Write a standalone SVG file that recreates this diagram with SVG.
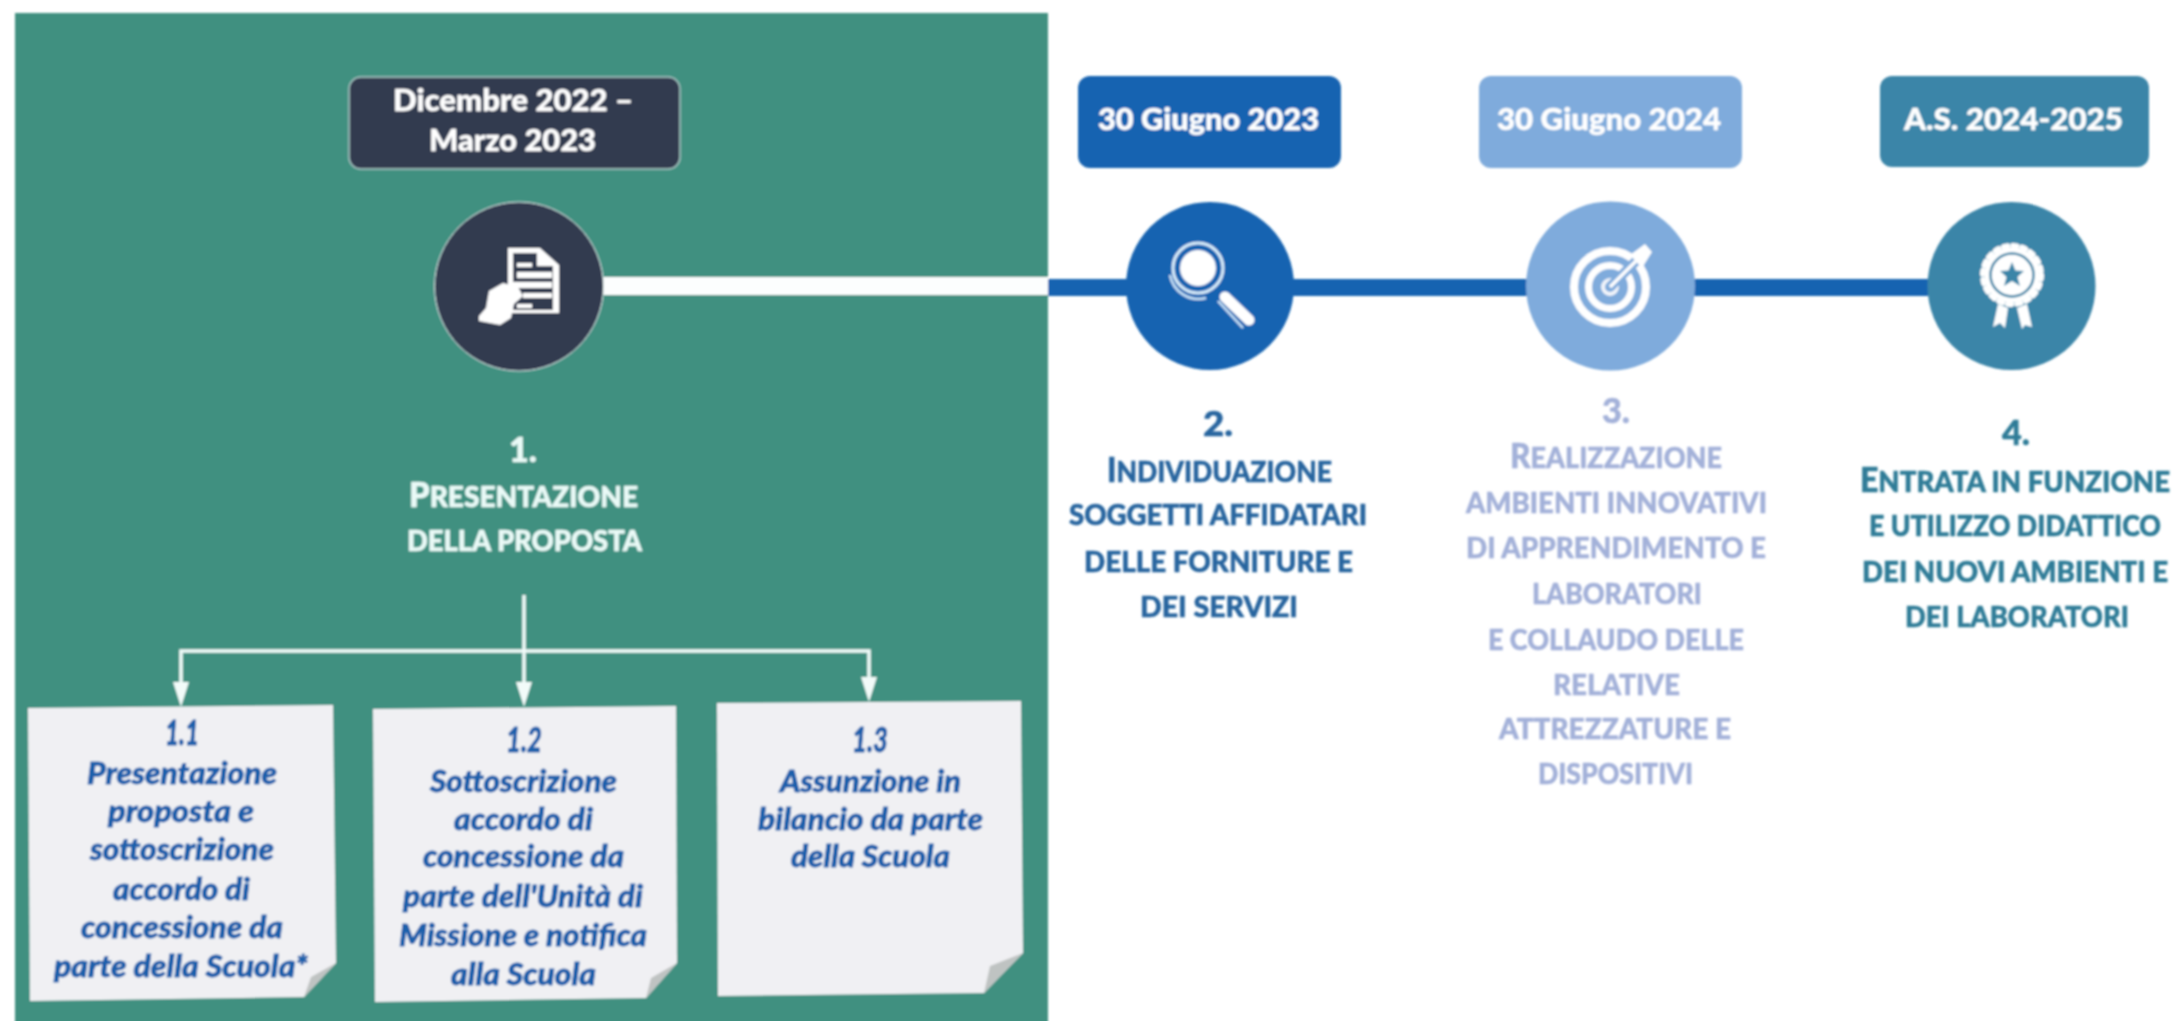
<svg xmlns="http://www.w3.org/2000/svg" width="2178" height="1021" viewBox="0 0 2178 1021">
<style>
text{font-family:"Lato","Noto Sans","Liberation Sans",sans-serif;font-weight:900}
.d{font-size:31px;fill:#fff;stroke:#fff;stroke-width:.4}
.w{font-size:29px;fill:#eafaf7;stroke:#eafaf7;stroke-width:.5}
.n{font-size:30px;fill:#1a5fab;stroke:#1a5fab;stroke-width:.8;font-style:italic}
.t2{font-size:29px;fill:#28659f;stroke:#28659f;stroke-width:.5}
.t3{font-size:29px;fill:#a3b1d9;stroke:#a3b1d9;stroke-width:.5}
.t4{font-size:29px;fill:#2e7c97;stroke:#2e7c97;stroke-width:.5}
.t4s{font-size:25px;fill:#2e7c97;stroke:#2e7c97;stroke-width:.5}
.b{font-size:34px}
.bs{font-size:29px}
.num{font-size:34px}
.line{fill:none;stroke:#f2fbf9;stroke-width:3.500}
.note{fill:#f0f0f3}
.fold{fill:#bfc3c2}
</style>
<defs>
<filter id="soft" x="-2%" y="-2%" width="104%" height="104%"><feGaussianBlur stdDeviation="1"/></filter>
</defs>
<rect width="2178" height="1021" fill="#fff"/>
<g filter="url(#soft)">
<rect id="panel" x="15" y="13" width="1033" height="1010" fill="#3f9080"/>
<g id="connectors">
<rect x="603" y="277" width="445" height="18" fill="#fcfefe"/>
<rect x="1048" y="279" width="880" height="17" fill="#1763b1"/>
<path class="line" d="M524 595V690"/>
<path class="line" d="M181 690V651H869V685"/>
<path d="M173 682H189L181 707Z M516 682H532L524 707Z M861 677H877L869 702Z" fill="#f2fbf9"/>
</g>
<g id="node-1">
<rect x="349" y="77" width="331" height="92" rx="12" fill="#333a4f" stroke="#a9c6c4" stroke-width="1.500"/>
<text class="d" x="393" y="111" textLength="240" lengthAdjust="spacingAndGlyphs">Dicembre 2022 –</text>
<text class="d" x="429" y="151" textLength="167" lengthAdjust="spacingAndGlyphs">Marzo 2023</text>
<circle cx="519" cy="286.500" r="84.500" fill="#333a4f" stroke="#dcecea" stroke-width="1"/>
<g id="icon-doc">
<path d="M508 248H540L559 265V313H508Z" fill="#fff"/>
<path d="M513 253H537V266H553V310H513Z" fill="#333a4f"/>
<path d="M517 263h15v4h-15z M517 272h35v6h-35z M513 282h39v6h-39z M523 293h29v5h-29z M517 304h15v4h-15z" fill="#fff"/>
<path d="M479 316L486 308L489 291L503 283L518 287L523 296L514 304L511 318L500 325L479 321Z" fill="#fff"/>
</g>
<text class="w num" x="509" y="462" textLength="28" lengthAdjust="spacingAndGlyphs">1.</text>
<text class="w" x="409" y="507" textLength="229" lengthAdjust="spacingAndGlyphs"><tspan class="b">P</tspan>RESENTAZIONE</text>
<text class="w" x="407" y="551" textLength="235" lengthAdjust="spacingAndGlyphs">DELLA PROPOSTA</text>
</g>
<g id="note-1-1">
<path class="note" d="M28 708L333 705L336 963L304 997L30 1001Z"/>
<path class="fold" d="M336 963L304 997L311 977Z"/>
<text class="n num" x="165" y="745" textLength="34" lengthAdjust="spacingAndGlyphs">1.1</text>
<text class="n" x="87" y="784" textLength="190" lengthAdjust="spacingAndGlyphs">Presentazione</text>
<text class="n" x="108" y="822" textLength="146" lengthAdjust="spacingAndGlyphs">proposta e</text>
<text class="n" x="90" y="860" textLength="184" lengthAdjust="spacingAndGlyphs">sottoscrizione</text>
<text class="n" x="113" y="900" textLength="137" lengthAdjust="spacingAndGlyphs">accordo di</text>
<text class="n" x="81" y="938" textLength="202" lengthAdjust="spacingAndGlyphs">concessione da</text>
<text class="n" x="54" y="977" textLength="254" lengthAdjust="spacingAndGlyphs">parte della Scuola*</text>
</g>
<g id="note-1-2">
<path class="note" d="M373 709L676 706L677 963L646 998L375 1002Z"/>
<path class="fold" d="M677 963L646 998L651 978Z"/>
<text class="n num" x="506" y="752" textLength="36" lengthAdjust="spacingAndGlyphs">1.2</text>
<text class="n" x="430" y="792" textLength="187" lengthAdjust="spacingAndGlyphs">Sottoscrizione</text>
<text class="n" x="454" y="830" textLength="139" lengthAdjust="spacingAndGlyphs">accordo di</text>
<text class="n" x="423" y="867" textLength="201" lengthAdjust="spacingAndGlyphs">concessione da</text>
<text class="n" x="403" y="907" textLength="240" lengthAdjust="spacingAndGlyphs">parte dell'Unità di</text>
<text class="n" x="399" y="946" textLength="248" lengthAdjust="spacingAndGlyphs">Missione e notifica</text>
<text class="n" x="451" y="985" textLength="145" lengthAdjust="spacingAndGlyphs">alla Scuola</text>
</g>
<g id="note-1-3">
<path class="note" d="M717 703L1021 701L1023 953L984 993L718 996Z"/>
<path class="fold" d="M1023 953L984 993L990 966Z"/>
<text class="n num" x="852" y="752" textLength="36" lengthAdjust="spacingAndGlyphs">1.3</text>
<text class="n" x="780" y="792" textLength="181" lengthAdjust="spacingAndGlyphs">Assunzione in</text>
<text class="n" x="758" y="830" textLength="225" lengthAdjust="spacingAndGlyphs">bilancio da parte</text>
<text class="n" x="791" y="867" textLength="159" lengthAdjust="spacingAndGlyphs">della Scuola</text>
</g>
<g id="node-2">
<rect x="1078" y="76" width="263" height="92" rx="12" fill="#1763b1"/>
<text class="d" x="1098" y="130" textLength="221" lengthAdjust="spacingAndGlyphs">30 Giugno 2023</text>
<circle cx="1210" cy="286" r="84" fill="#1763b1"/>
<g id="icon-search">
<circle cx="1198" cy="268" r="18" fill="#fff"/>
<circle cx="1198" cy="268" r="25" fill="none" stroke="#d8ecfa" stroke-width="3"/>
<path d="M1170 275A29 29 0 0 0 1206 298" fill="none" stroke="#c6e0f6" stroke-width="2.500"/>
<path d="M1225 297L1249 320" stroke="#fff" stroke-width="11" stroke-linecap="round"/>
<path d="M1218 301L1243 328" stroke="#c6e0f6" stroke-width="2.500" fill="none"/>
</g>
<text class="t2 num" x="1203" y="436" textLength="30" lengthAdjust="spacingAndGlyphs">2.</text>
<text class="t2" x="1107" y="482" textLength="225" lengthAdjust="spacingAndGlyphs"><tspan class="b">I</tspan>NDIVIDUAZIONE</text>
<text class="t2" x="1069" y="525" textLength="298" lengthAdjust="spacingAndGlyphs">SOGGETTI AFFIDATARI</text>
<text class="t2" x="1084" y="572" textLength="269" lengthAdjust="spacingAndGlyphs">DELLE FORNITURE E</text>
<text class="t2" x="1140" y="617" textLength="158" lengthAdjust="spacingAndGlyphs">DEI SERVIZI</text>
</g>
<g id="node-3">
<rect x="1479" y="76" width="263" height="92" rx="12" fill="#7fabdc"/>
<text class="d" x="1497" y="130" textLength="224" lengthAdjust="spacingAndGlyphs">30 Giugno 2024</text>
<circle cx="1610.500" cy="286" r="84.500" fill="#7fabdc"/>
<g id="icon-target" fill="none">
<circle cx="1610" cy="287" r="36" stroke="#fff" stroke-width="8"/>
<circle cx="1610" cy="287" r="21.500" stroke="#fff" stroke-width="7"/>
<circle cx="1610" cy="287" r="7" stroke="#f1f4fa" stroke-width="4"/>
<path d="M1610 287L1640 257" stroke="#7fabdc" stroke-width="10"/>
<path d="M1610 287L1636 261" stroke="#fff" stroke-width="3.500"/>
<path d="M1630 255L1645 244L1652 252L1642 268Z" fill="#fff"/>
</g>
<text class="t3 num" x="1602" y="423" textLength="28" lengthAdjust="spacingAndGlyphs">3.</text>
<text class="t3" x="1510" y="468" textLength="212" lengthAdjust="spacingAndGlyphs"><tspan class="b">R</tspan>EALIZZAZIONE</text>
<text class="t3" x="1466" y="513" textLength="301" lengthAdjust="spacingAndGlyphs">AMBIENTI INNOVATIVI</text>
<text class="t3" x="1466" y="558" textLength="300" lengthAdjust="spacingAndGlyphs">DI APPRENDIMENTO E</text>
<text class="t3" x="1532" y="604" textLength="170" lengthAdjust="spacingAndGlyphs">LABORATORI</text>
<text class="t3" x="1488" y="650" textLength="256" lengthAdjust="spacingAndGlyphs">E COLLAUDO DELLE</text>
<text class="t3" x="1553" y="695" textLength="127" lengthAdjust="spacingAndGlyphs">RELATIVE</text>
<text class="t3" x="1499" y="739" textLength="232" lengthAdjust="spacingAndGlyphs">ATTREZZATURE E</text>
<text class="t3" x="1538" y="784" textLength="155" lengthAdjust="spacingAndGlyphs">DISPOSITIVI</text>
</g>
<g id="node-4">
<rect x="1880" y="76" width="269" height="91" rx="12" fill="#3b85a8"/>
<text class="d" x="1904" y="130" textLength="219" lengthAdjust="spacingAndGlyphs">A.S. 2024-2025</text>
<circle cx="2011.500" cy="286" r="84" fill="#3b85a8"/>
<g id="icon-badge">
<path d="M1998 304L2008 308L2005 328L2000 323L1993 327Z M2017 308L2027 304L2032 327L2025 325L2022 329Z" fill="#fff"/>
<circle cx="2012" cy="275" r="28" fill="#fff"/>
<circle cx="2012" cy="275" r="29.500" fill="none" stroke="#fff" stroke-width="5" stroke-linecap="round" stroke-dasharray="4.300 5"/>
<circle cx="2012" cy="275" r="21.500" fill="none" stroke="#3b85a8" stroke-width="2.500"/>
<path d="M2012 262L2015.500 270.500L2024 271L2017.500 277L2020 286L2012 281L2004 286L2006.500 277L2000 271L2008.500 270.500Z" fill="#3b85a8"/>
</g>
<text class="t4 num" x="2002" y="445" textLength="28" lengthAdjust="spacingAndGlyphs">4.</text>
<text class="t4s" transform="translate(1860 492) scale(1 1.15)" x="0" y="0" textLength="310" lengthAdjust="spacingAndGlyphs"><tspan class="bs">E</tspan>NTRATA IN FUNZIONE</text>
<text class="t4s" transform="translate(1869 536) scale(1 1.15)" x="0" y="0" textLength="292" lengthAdjust="spacingAndGlyphs">E UTILIZZO DIDATTICO</text>
<text class="t4s" transform="translate(1862 582) scale(1 1.15)" x="0" y="0" textLength="306" lengthAdjust="spacingAndGlyphs">DEI NUOVI AMBIENTI E</text>
<text class="t4" x="1905" y="627" textLength="224" lengthAdjust="spacingAndGlyphs">DEI LABORATORI</text>
</g>
</g>
</svg>
